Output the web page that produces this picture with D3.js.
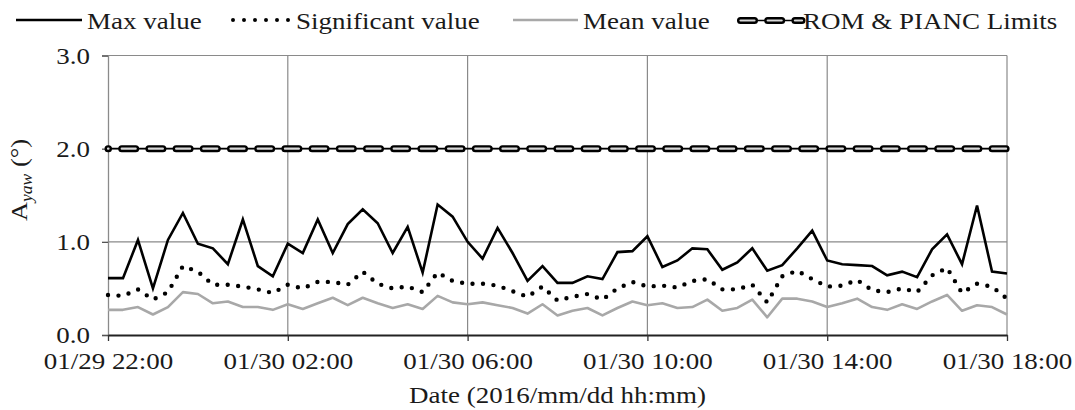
<!DOCTYPE html>
<html>
<head>
<meta charset="utf-8">
<script src="https://cdn.jsdelivr.net/npm/d3@7"></script>
<style>
  html, body { margin: 0; padding: 0; background: #fff; }
  svg { display: block; }
  text { font-family: "Liberation Serif", "Times New Roman", serif; fill: #1a1a1a; }
</style>
</head>
<body>
<svg id="chart" width="1075" height="410"></svg>
<script>
// ---- data ----
const startTime = "2016/01/29 22:00";
const stepMinutes = 20;
const tickLabels = ["01/29 22:00", "01/30 02:00", "01/30 06:00", "01/30 10:00", "01/30 14:00", "01/30 18:00"];
const yTicks = [0, 1, 2, 3];
const maxValue = [0.61,0.61,1.02,0.50,1.02,1.31,0.98,0.93,0.76,1.24,0.74,0.63,0.98,0.88,1.24,0.88,1.19,1.35,1.20,0.88,
                  1.16,0.67,1.40,1.27,1.00,0.82,1.15,0.88,0.58,0.74,0.56,0.56,0.63,0.60,0.89,0.90,1.06,0.73,0.80,0.93,
                  0.92,0.70,0.78,0.93,0.69,0.75,0.93,1.12,0.80,0.76,0.75,0.74,0.64,0.68,0.62,0.92,1.08,0.76,1.39,0.68,0.66];
const sigValue = [0.43,0.42,0.49,0.38,0.46,0.74,0.68,0.54,0.54,0.52,0.49,0.45,0.54,0.50,0.57,0.57,0.54,0.68,0.55,0.50,
                  0.52,0.46,0.67,0.58,0.55,0.55,0.53,0.47,0.41,0.52,0.37,0.41,0.44,0.38,0.50,0.57,0.52,0.53,0.51,0.58,
                  0.60,0.49,0.49,0.54,0.35,0.63,0.69,0.60,0.52,0.53,0.59,0.48,0.46,0.50,0.46,0.64,0.72,0.45,0.55,0.52,0.39];
const meanValue = [0.27,0.27,0.30,0.22,0.30,0.46,0.44,0.34,0.36,0.30,0.30,0.27,0.33,0.28,0.34,0.40,0.32,0.40,0.34,0.29,
                   0.33,0.28,0.42,0.35,0.33,0.35,0.32,0.29,0.23,0.33,0.21,0.26,0.29,0.21,0.29,0.36,0.32,0.34,0.29,0.30,
                   0.38,0.26,0.29,0.38,0.19,0.39,0.39,0.36,0.30,0.34,0.39,0.30,0.27,0.33,0.28,0.36,0.43,0.26,0.32,0.30,0.22];
const limitValue = 2.0;
const seriesNames = ["Max value", "Significant value", "Mean value", "ROM & PIANC Limits"];

// ---- setup ----
const W = 1075, H = 410;
const margin = {left: 108, right: 68, top: 55.5, bottom: 75};
const svg = d3.select("#chart");
const SX = 1.125; // horizontal text stretch
const parseFull = d3.timeParse("%Y/%m/%d %H:%M");
const t0 = parseFull(startTime);
const times = maxValue.map((_, i) => d3.timeMinute.offset(t0, stepMinutes * i));
const tickDates = tickLabels.map(s => parseFull("2016/" + s));
const fmt = d3.timeFormat("%m/%d %H:%M");

const x = d3.scaleTime().domain([tickDates[0], tickDates[tickDates.length - 1]])
  .range([margin.left, W - margin.right]);
const y = d3.scaleLinear().domain([0, 3]).range([H - margin.bottom, margin.top]);

// gridlines
const grid = svg.append("g");
grid.selectAll("line.h").data(yTicks.slice(1)).join("line")
  .attr("x1", x.range()[0]).attr("x2", x.range()[1])
  .attr("y1", d => y(d)).attr("y2", d => y(d))
  .attr("stroke", "#8a8a8a").attr("stroke-width", 1.2);
grid.selectAll("line.v").data(tickDates.slice(1)).join("line")
  .attr("x1", d => x(d)).attr("x2", d => x(d))
  .attr("y1", y(0)).attr("y2", y(3))
  .attr("stroke", "#8a8a8a").attr("stroke-width", 1.2);

// axes
const yAxis = svg.append("g").attr("transform", `translate(${margin.left},0)`)
  .call(d3.axisLeft(y).tickValues(yTicks).tickFormat(d3.format(".1f")).tickSize(6).tickPadding(10));
yAxis.select(".domain").attr("stroke", "#8a8a8a").attr("stroke-width", 1.3);
yAxis.selectAll(".tick line").attr("stroke", "#555").attr("stroke-width", 1.3);
yAxis.selectAll(".tick text").attr("font-size", 24).attr("font-family", "Liberation Serif")
  .attr("fill", "#1a1a1a").attr("transform", `scale(${SX},1)`);

const xAxis = svg.append("g").attr("transform", `translate(0,${y(0)})`)
  .call(d3.axisBottom(x).tickValues(tickDates).tickFormat(fmt).tickSize(6).tickPadding(11).tickSizeOuter(0));
xAxis.select(".domain").attr("stroke", "#222").attr("stroke-width", 2);
xAxis.selectAll(".tick line").attr("stroke", "#333").attr("stroke-width", 1.3);
xAxis.selectAll(".tick text").attr("font-size", 24).attr("font-family", "Liberation Serif")
  .attr("fill", "#1a1a1a").attr("transform", `scale(${SX},1)`);

// lines
const line = d3.line().x((d, i) => x(times[i])).y(d => y(d));
svg.append("path").datum(meanValue).attr("d", line)
  .attr("fill", "none").attr("stroke", "#a8a8a8").attr("stroke-width", 2.6).attr("stroke-linejoin", "round");
svg.append("path").datum(sigValue).attr("d", line)
  .attr("fill", "none").attr("stroke", "#000").attr("stroke-width", 4.4)
  .attr("stroke-linecap", "round").attr("stroke-dasharray", "0 10.5");
svg.append("path").datum(maxValue).attr("d", line)
  .attr("fill", "none").attr("stroke", "#000").attr("stroke-width", 2.6).attr("stroke-linejoin", "miter");

// limit line
function limitStyle(g, x1, x2, yy, offset) {
  g.append("line").attr("x1", x1).attr("x2", x2).attr("y1", yy).attr("y2", yy)
    .attr("stroke", "#000").attr("stroke-width", 1.6);
  g.append("line").attr("x1", x1).attr("x2", x2).attr("y1", yy).attr("y2", yy)
    .attr("stroke", "#000").attr("stroke-width", 7).attr("stroke-linecap", "round")
    .attr("stroke-dasharray", "14 13.2").attr("stroke-dashoffset", offset);
  g.append("line").attr("x1", x1).attr("x2", x2).attr("y1", yy).attr("y2", yy)
    .attr("stroke", "#d8d8d8").attr("stroke-width", 2.2).attr("stroke-linecap", "round")
    .attr("stroke-dasharray", "14 13.2").attr("stroke-dashoffset", offset);
}
const limG = svg.append("g");
limitStyle(limG, x.range()[0], x.range()[1], y(limitValue), 13.5);

// axis titles
svg.append("text").attr("text-anchor", "middle")
  .attr("transform", `translate(${(x.range()[0] + x.range()[1]) / 2},403) scale(${SX},1)`)
  .attr("font-size", 24).text("Date (2016/mm/dd hh:mm)");
const yt = svg.append("text").attr("text-anchor", "middle")
  .attr("transform", `translate(27,180) rotate(-90) scale(1.1,1)`)
  .attr("font-size", 24);
yt.append("tspan").text("A");
yt.append("tspan").attr("font-size", 16).attr("font-style", "italic").attr("dy", 5).text("yaw");
yt.append("tspan").attr("dy", -5).text(" (°)");

// legend
const legY = 20, legBase = 29;
const leg = svg.append("g");
leg.append("line").attr("x1", 16).attr("x2", 82).attr("y1", legY).attr("y2", legY)
  .attr("stroke", "#000").attr("stroke-width", 2.6);
leg.append("line").attr("x1", 233).attr("x2", 289).attr("y1", legY).attr("y2", legY)
  .attr("stroke", "#000").attr("stroke-width", 4).attr("stroke-linecap", "round").attr("stroke-dasharray", "0 11");
leg.append("line").attr("x1", 513).attr("x2", 578).attr("y1", legY).attr("y2", legY)
  .attr("stroke", "#a8a8a8").attr("stroke-width", 2.6);
limitStyle(leg, 737, 802, legY + 0.5, -3.5);
const legX = [87, 296, 583, 803];
leg.selectAll("text").data(seriesNames).join("text")
  .attr("transform", (d, i) => `translate(${legX[i]},${legBase}) scale(${SX},1)`)
  .attr("font-size", 24).text(d => d);
</script>
</body>
</html>
